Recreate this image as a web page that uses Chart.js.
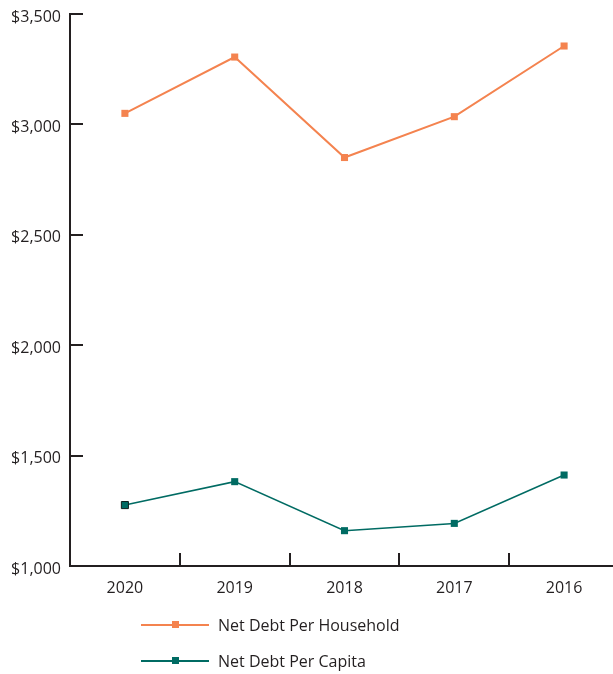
<!DOCTYPE html>
<html>
<head>
<meta charset="utf-8">
<script src="https://cdn.jsdelivr.net/npm/chart.js@4"></script>
<style>
  html, body { margin: 0; padding: 0; background: #fff; overflow: hidden; }
  #wrap { position: relative; width: 613px; height: 674px; overflow: hidden; }
  #chart { position: absolute; left: 0; top: 0; }
  .legend-row { position: absolute; left: 141px; height: 20px; display: flex; align-items: center;
    font-family: "Open Sans", sans-serif; font-size: 16px; color: #231f20; }
  .legend-line { position: relative; width: 68px; height: 2px; margin-right: 9px; }
  .legend-dot { position: absolute; left: 31px; top: -3px; width: 7px; height: 7px; }
</style>
</head>
<body>
<div id="wrap">
  <canvas id="chart" width="625" height="674"></canvas>
  <div id="legend"></div>
</div>
<script>
const years = ["2020", "2019", "2018", "2017", "2016"];
const perHousehold = [3050, 3305, 2850, 3035, 3355];
const perCapita = [1276, 1382, 1160, 1193, 1412];
const yTicks = [1000, 1500, 2000, 2500, 3000, 3500];

const orange = "#f4834f";
const teal = "#006b63";
const ink = "#231f20";
const font = { family: "'Open Sans', sans-serif", size: 16 };

// short tick marks drawn inside the plot, along both axes
const innerTicks = {
  id: "innerTicks",
  afterDraw(chart) {
    const { ctx, chartArea, scales } = chart;
    const len = 13;
    ctx.save();
    ctx.strokeStyle = ink;
    ctx.lineWidth = 2;
    ctx.beginPath();
    yTicks.forEach((v) => {
      const y = Math.round(scales.y.getPixelForValue(v));
      ctx.moveTo(chartArea.left, y);
      ctx.lineTo(chartArea.left + len, y);
    });
    for (let i = 1; i < years.length; i++) {
      const x = Math.round((scales.x.getPixelForValue(i - 1) + scales.x.getPixelForValue(i)) / 2);
      ctx.moveTo(x, chartArea.bottom);
      ctx.lineTo(x, chartArea.bottom - len);
    }
    ctx.stroke();
    ctx.restore();
  },
};

const chart = new Chart(document.getElementById("chart"), {
  type: "line",
  data: {
    labels: years,
    datasets: [
      {
        label: "Net Debt Per Household",
        data: perHousehold,
        borderColor: orange,
        backgroundColor: orange,
        borderWidth: 2,
        pointStyle: "rect",
        pointRadius: 5,
        pointBorderWidth: 0,
        tension: 0,
      },
      {
        label: "Net Debt Per Capita",
        data: perCapita,
        borderColor: teal,
        backgroundColor: teal,
        borderWidth: 1.5,
        pointStyle: "rect",
        pointRadius: 5,
        // first marker carries a dark outline
        pointBorderColor: (c) => (c.dataIndex === 0 ? "#10201e" : teal),
        pointBorderWidth: (c) => (c.dataIndex === 0 ? 1 : 0),
        tension: 0,
      },
    ],
  },
  options: {
    responsive: false,
    animation: false,
    layout: { padding: { top: 14, right: 5, left: 0, bottom: 0 } },
    plugins: {
      legend: { display: false },
      tooltip: { enabled: false },
    },
    scales: {
      x: {
        offset: true,
        grid: { display: true, drawOnChartArea: false, drawTicks: false },
        border: { color: ink, width: 2 },
        ticks: { color: ink, font, padding: 13 },
        afterFit(scale) {
          scale.height = 108;
          scale.paddingLeft = 0;
          scale.paddingRight = 0;
        },
      },
      y: {
        min: 1000,
        max: 3500,
        grid: { display: true, drawOnChartArea: false, drawTicks: false },
        border: { color: ink, width: 2 },
        ticks: {
          stepSize: 500,
          color: ink,
          font,
          padding: 9,
          labelOffset: 3,
          callback: (v) => "$" + v.toLocaleString("en-US"),
        },
        afterFit(scale) {
          scale.width = 70;
          scale.paddingTop = 0;
          scale.paddingBottom = 0;
        },
      },
    },
  },
  plugins: [innerTicks],
});

// legend stacked under the x axis
const legend = document.getElementById("legend");
chart.data.datasets.forEach((ds, i) => {
  const row = document.createElement("div");
  row.className = "legend-row";
  row.style.top = (615 + i * 36) + "px";
  row.innerHTML =
    '<div class="legend-line" style="background:' + ds.borderColor + '">' +
    '<div class="legend-dot" style="background:' + ds.borderColor + '"></div></div>' +
    "<span>" + ds.label + "</span>";
  legend.appendChild(row);
});
</script>
</body>
</html>
